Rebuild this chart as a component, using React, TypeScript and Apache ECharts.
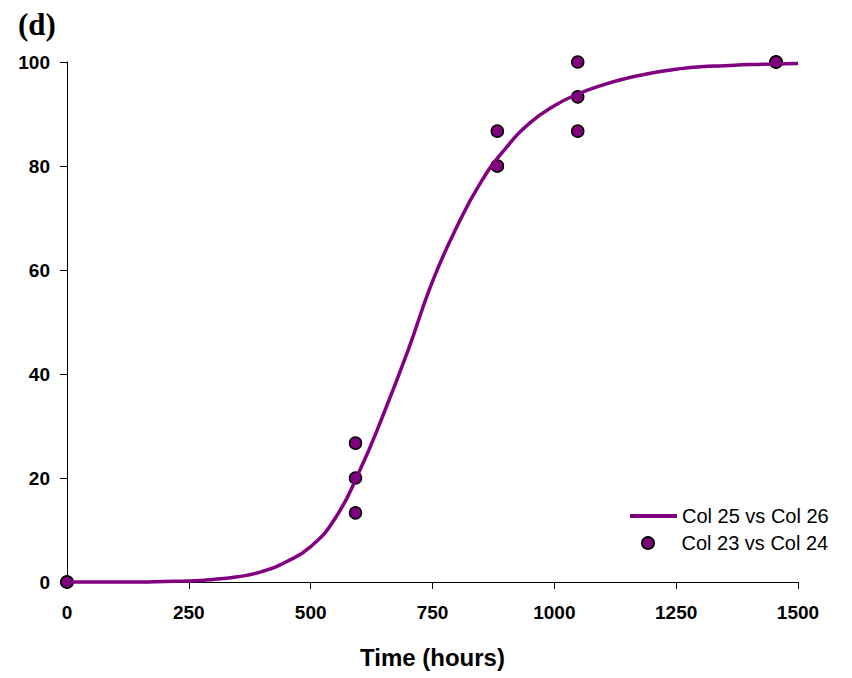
import React, { useEffect, useRef } from "react";
import * as echarts from "echarts";

const xTicks = [0, 250, 500, 750, 1000, 1250, 1500];
const yTicks = [0, 20, 40, 60, 80, 100];

const curveX = [0, 50, 100, 150, 200, 250, 300, 350, 400, 450, 500, 550, 600, 650, 700, 750, 800, 850, 900, 950, 1000, 1050, 1100, 1150, 1200, 1250, 1300, 1350, 1400, 1450, 1500];
const curveY = [0, 0, 0, 0, 0.1, 0.2, 0.5, 1.0, 2.0, 3.9, 6.8, 12.2, 21.3, 32.4, 44.6, 57.8, 68.3, 77, 83.4, 88.3, 91.6, 93.9, 95.6, 96.9, 97.9, 98.6, 99.1, 99.3, 99.5, 99.6, 99.7];

const pointX = [0, 0, 0, 592, 592, 592, 883, 883, 883, 1048, 1048, 1048, 1455, 1455, 1455];
const pointY = [0, 0, 0, 13.3, 20, 26.7, 80, 80, 86.7, 86.7, 93.3, 100, 100, 100, 100];

const lineName = "Col 25 vs Col 26";
const pointName = "Col 23 vs Col 24";

export default function App() {
  const ref = useRef<HTMLDivElement>(null);
  useEffect(() => {
    if (!ref.current) return;
    const chart = echarts.init(ref.current, null, { renderer: "svg" });
    const labelFont = { fontFamily: "Liberation Sans", fontWeight: "bold" as const, fontSize: 19, color: "#000" };
    const legendText = { fontFamily: "Liberation Sans", fontSize: 20, color: "#000" };
    chart.setOption({
      animation: false,
      backgroundColor: "#fff",
      title: {
        text: "(d)",
        left: 13,
        top: 4,
        textStyle: { fontFamily: "Liberation Serif", fontWeight: "bold", fontSize: 31, color: "#000" },
      },
      grid: { left: 67, right: 54, top: 62, bottom: 96 },
      legend: [
        {
          left: 625,
          top: 501,
          itemWidth: 47,
          itemHeight: 4,
          icon: "rect",
          textStyle: legendText,
          data: [lineName],
        },
        {
          left: 636,
          top: 528,
          itemWidth: 47,
          itemHeight: 12,
          icon: "circle",
          textStyle: { ...legendText, padding: [0, 0, 0, 5] },
          data: [pointName],
        },
      ],
      xAxis: {
        type: "value",
        min: xTicks[0],
        max: xTicks[xTicks.length - 1],
        interval: 250,
        name: "Time (hours)",
        nameLocation: "middle",
        nameGap: 63,
        nameTextStyle: { fontFamily: "Liberation Sans", fontWeight: "bold", fontSize: 24, color: "#000" },
        axisLine: { lineStyle: { color: "#000", width: 1 } },
        axisTick: { show: true, length: 7, lineStyle: { color: "#000" } },
        axisLabel: { ...labelFont, margin: 21, formatter: (v: number) => String(v) },
        splitLine: { show: false },
      },
      yAxis: {
        type: "value",
        min: yTicks[0],
        max: yTicks[yTicks.length - 1],
        interval: 20,
        axisLine: { show: true, lineStyle: { color: "#000", width: 1 } },
        axisTick: { show: true, length: 7, lineStyle: { color: "#000" } },
        axisLabel: { ...labelFont, margin: 17, formatter: (v: number) => String(v) },
        splitLine: { show: false },
      },
      series: [
        {
          name: lineName,
          type: "line",
          data: curveX.map((x, i) => [x, curveY[i]]),
          smooth: 0.5,
          symbol: "none",
          clip: false,
          lineStyle: { color: "#800080", width: 3.5 },
          itemStyle: { color: "#800080" },
        },
        {
          name: pointName,
          type: "scatter",
          data: pointX.map((x, i) => [x, pointY[i]]),
          symbol: "circle",
          symbolSize: 12,
          clip: false,
          itemStyle: { color: "#800080", opacity: 1, borderColor: "#000", borderWidth: 1.5 },
        },
      ],
    });
    return () => chart.dispose();
  }, []);
  return <div ref={ref} style={{ position: "fixed", left: 0, top: 0, width: 852, height: 678 }} />;
}
